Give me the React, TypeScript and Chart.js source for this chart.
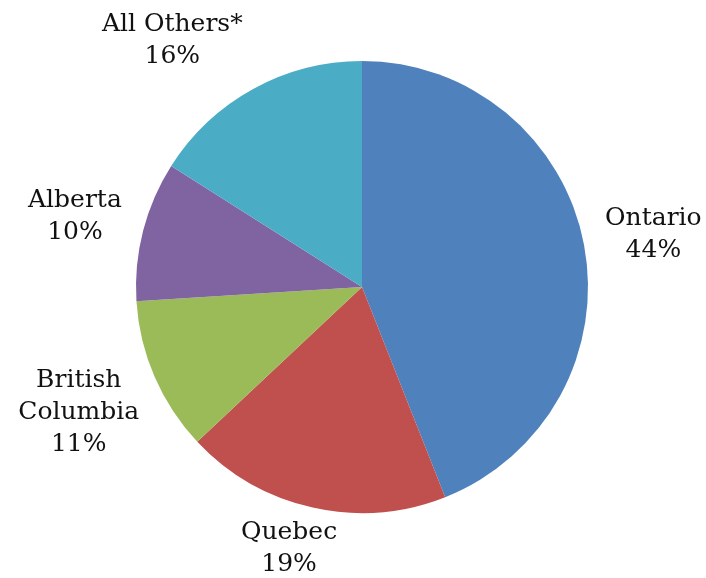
import React, { useEffect, useRef } from "react";
import { Chart, registerables } from "chart.js";

Chart.register(...registerables);

const categories = ["Ontario", "Quebec", "British Columbia", "Alberta", "All Others*"];
const labelLines = [["Ontario"], ["Quebec"], ["British", "Columbia"], ["Alberta"], ["All Others*"]];
const shares = [44, 19, 11, 10, 16];
const colors = ["#4F81BD", "#C0504D", "#9BBB59", "#8064A2", "#4BACC6"];

const FONT = "25px 'DejaVu Serif'";
const LINE_H = 32;
const GAP = 20;

const outsideLabels = {
  id: "outsideLabels",
  afterDraw(chart: any) {
    const ctx = chart.ctx;
    const meta = chart.getDatasetMeta(0);
    const data = chart.data.datasets[0].data as number[];
    const total = data.reduce((a, b) => a + b, 0);
    ctx.save();
    ctx.font = FONT;
    ctx.fillStyle = "#111";
    ctx.textAlign = "center";
    ctx.textBaseline = "middle";
    meta.data.forEach((arc: any, i: number) => {
      const { x, y, startAngle, endAngle, outerRadius } = arc.getProps(
        ["x", "y", "startAngle", "endAngle", "outerRadius"],
        true
      );
      const mid = (startAngle + endAngle) / 2;
      const dx = Math.cos(mid);
      const dy = Math.sin(mid);
      const lines = [...labelLines[i], Math.round((data[i] / total) * 100) + "%"];
      const w = Math.max(...lines.map((l) => ctx.measureText(l).width));
      const h = lines.length * LINE_H - 10;
      const clamp = (t: number) => Math.max(-1, Math.min(1, t));
      const gap = GAP - 8 * dy;
      const px = x + dx * (outerRadius + gap);
      const py = y + dy * (outerRadius + gap);
      const cx = px + clamp(dx * 2) * (w / 2);
      const cy = py + clamp(dy * 1.6) * (h / 2) + 2;
      lines.forEach((l, j) => {
        ctx.fillText(l, cx, cy + (j - (lines.length - 1) / 2) * LINE_H);
      });
    });
    ctx.restore();
  },
};

export default function App() {
  const ref = useRef<HTMLCanvasElement>(null);
  useEffect(() => {
    const chart = new Chart(ref.current!, {
      type: "pie",
      data: {
        labels: categories,
        datasets: [
          {
            data: shares,
            backgroundColor: colors,
            borderWidth: 0,
          },
        ],
      },
      options: {
        responsive: false,
        animation: false,
        layout: { padding: { left: 136, right: 118, top: 61, bottom: 65 } },
        plugins: {
          legend: { display: false },
          tooltip: { enabled: false },
        },
      },
      plugins: [outsideLabels],
    });
    return () => chart.destroy();
  }, []);
  return (
    <div style={{ position: "absolute", left: 0, top: 0, width: 706, height: 578, background: "#fff" }}>
      <canvas ref={ref} width={706} height={578} />
    </div>
  );
}
